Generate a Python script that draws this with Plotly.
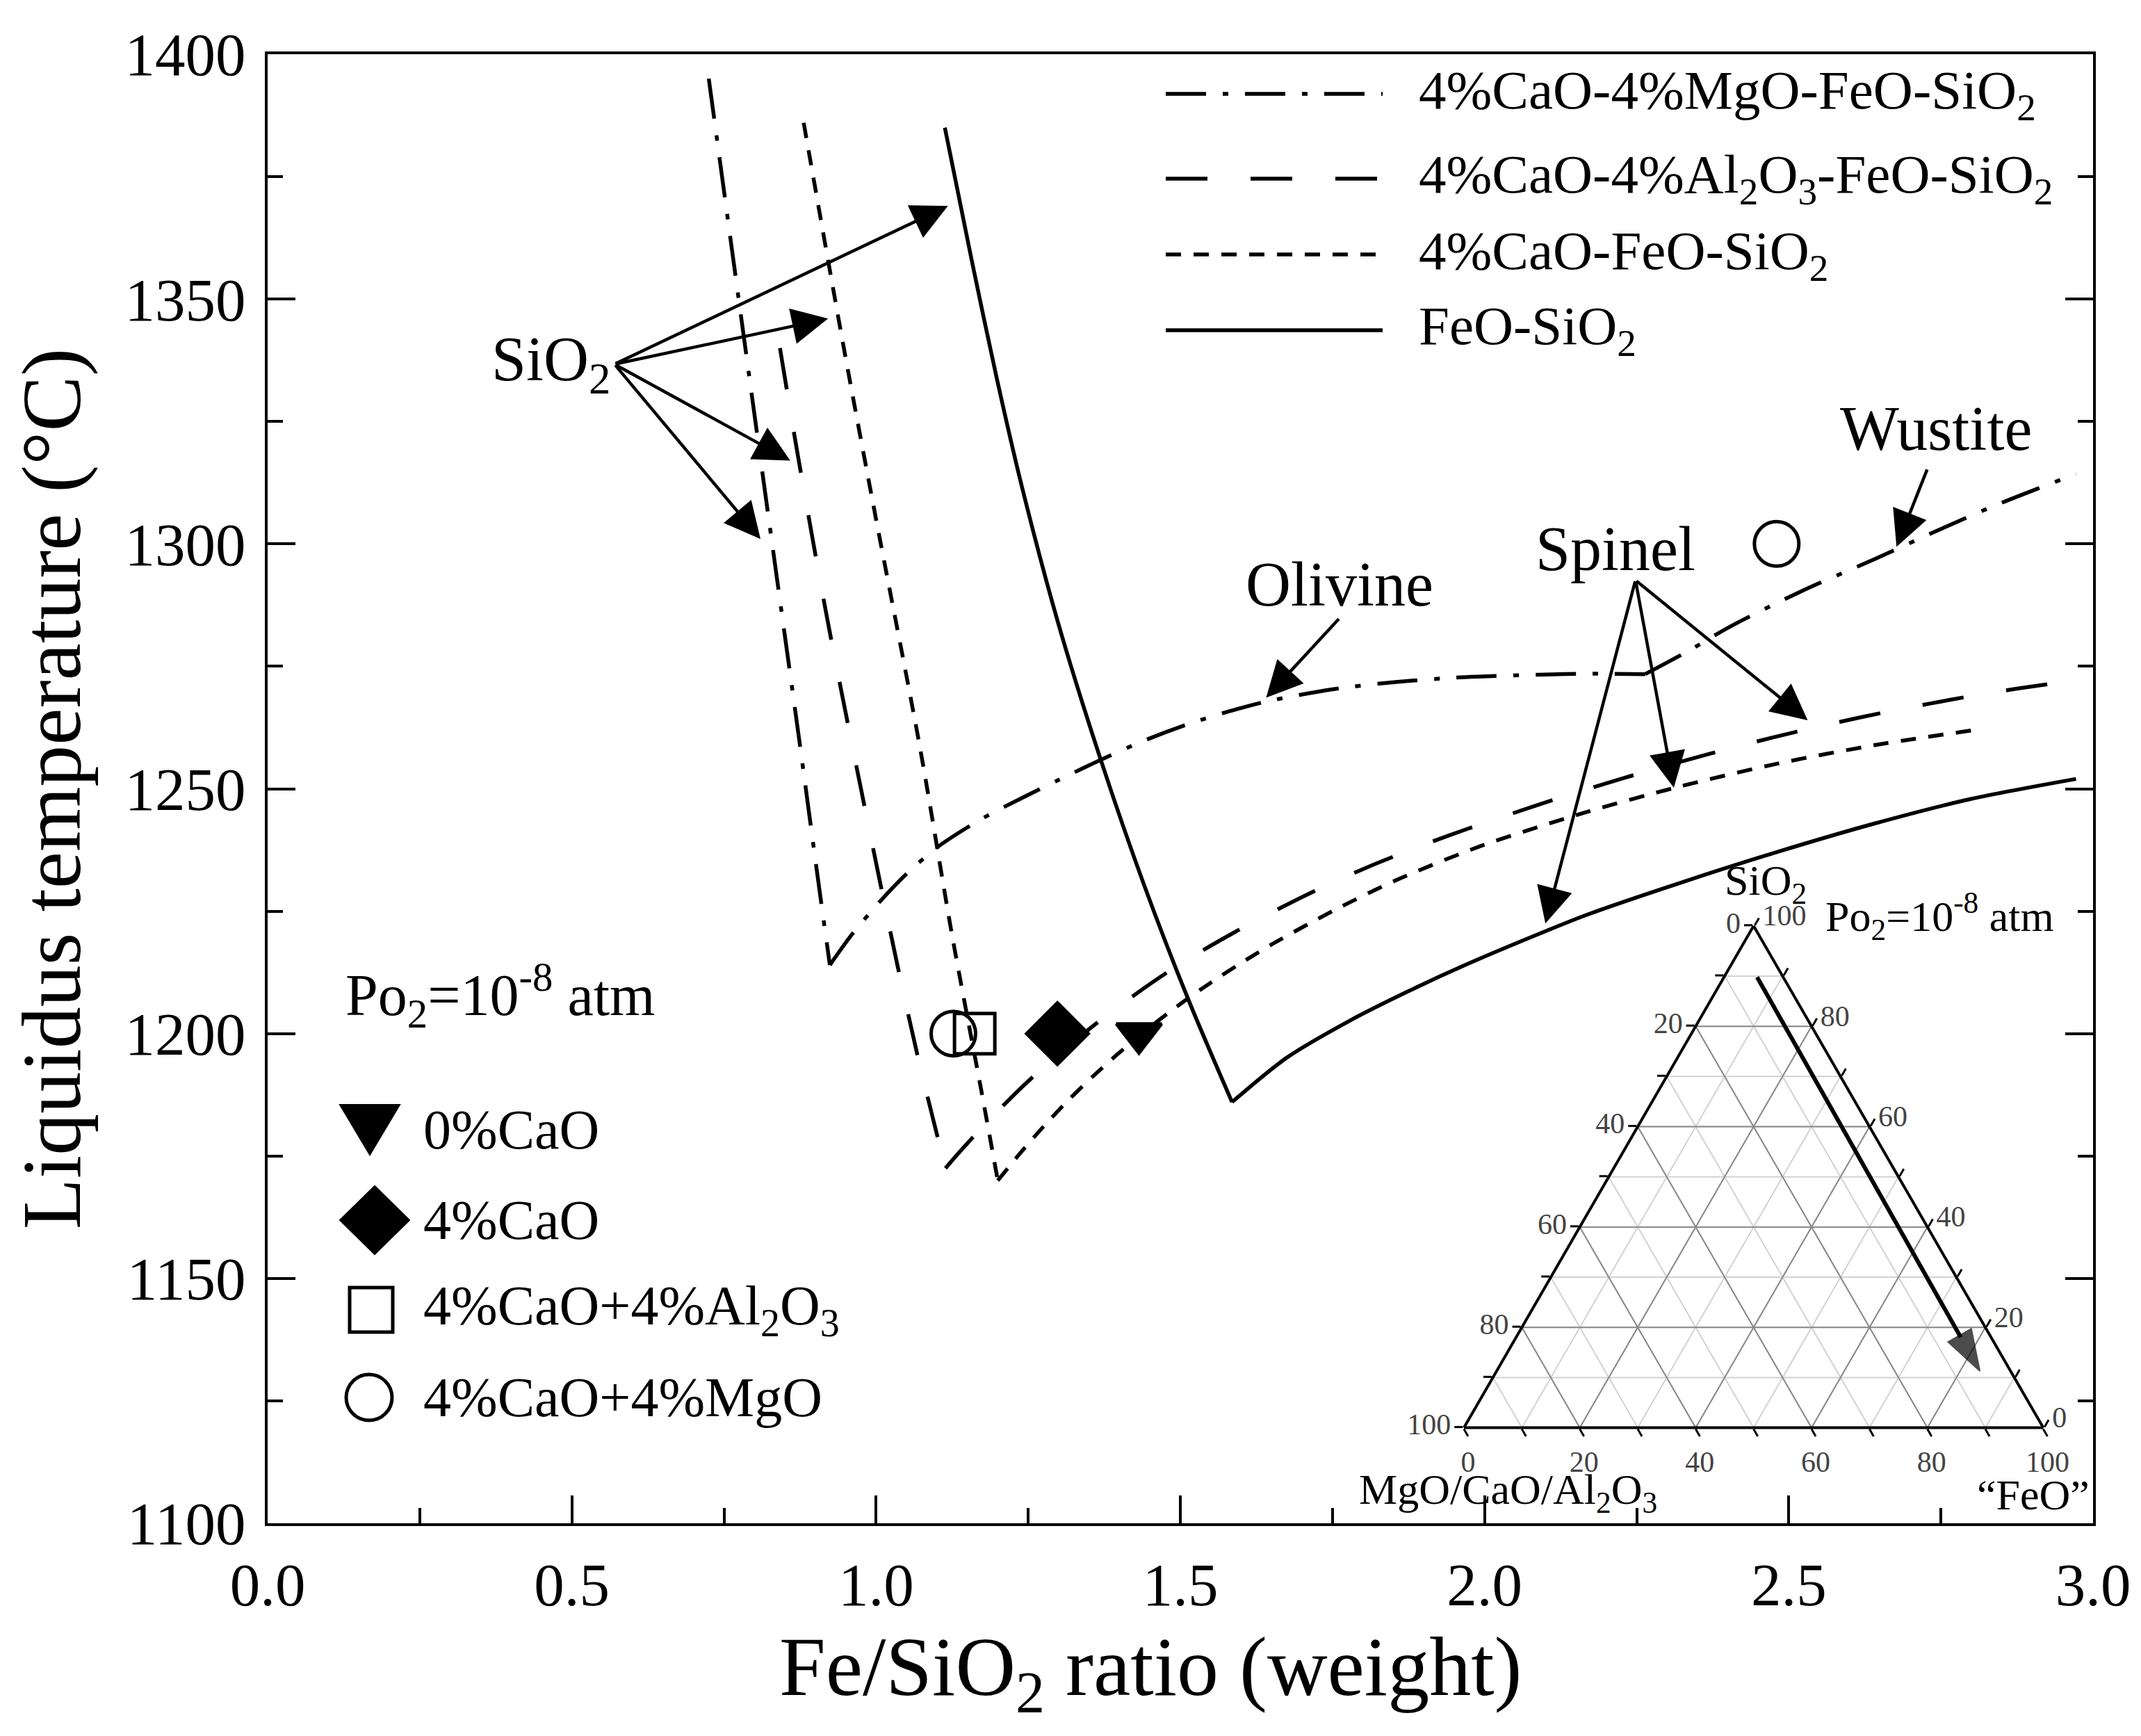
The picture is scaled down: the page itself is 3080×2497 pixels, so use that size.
import plotly.graph_objects as go

# ---------------- data ----------------
# 4%CaO-4%MgO-FeO-SiO2 : SiO2 branch, olivine branch, wustite branch
mgo_sio2_x = [0.725, 0.778, 0.832, 0.872, 0.904, 0.924]
mgo_sio2_t = [1395, 1346.5, 1297.5, 1261.5, 1232, 1214]
mgo_ol_x = [0.924, 0.960, 1.008, 1.050, 1.100, 1.170, 1.241, 1.300, 1.369, 1.440, 1.513, 1.580,
            1.641, 1.750, 1.854, 1.968, 2.090, 2.180, 2.264]
mgo_ol_t = [1214, 1220.2, 1227.2, 1232.6, 1238, 1243.6, 1248.2, 1251.8, 1255.9, 1259.8, 1263.2, 1265.8,
            1267.8, 1270.3, 1271.8, 1272.8, 1273.3, 1273.5, 1273.4]
mgo_wu_x = [2.264, 2.330, 2.405, 2.520, 2.641, 2.740, 2.838, 2.972]
mgo_wu_t = [1273.4, 1277.8, 1283.2, 1290.3, 1296.9, 1302.5, 1307.8, 1314.3]

# 4%CaO-4%Al2O3-FeO-SiO2 : SiO2 branch, spinel branch
al_sio2_x = [0.842, 0.8715, 0.920, 0.980, 1.035, 1.071, 1.114]
al_sio2_t = [1340, 1318, 1284.5, 1247, 1214, 1194, 1172.5]
al_sp_x = [1.114, 1.137, 1.180, 1.239, 1.300, 1.354, 1.4125, 1.476, 1.537, 1.601, 1.670, 1.734, 1.806,
           1.870, 1.940, 2.004, 2.083, 2.145, 2.224, 2.287, 2.366, 2.433, 2.511, 2.578, 2.661, 2.728,
           2.803, 2.873, 2.987]
al_sp_t = [1172.5, 1175.8, 1181.6, 1189, 1195.8, 1201.3, 1206.8, 1212.3, 1217, 1221.5, 1226, 1229.9, 1233.9,
           1237.1, 1240.4, 1243.2, 1246.5, 1249, 1252, 1254.3, 1257, 1259.2, 1261.6, 1263.5, 1265.7, 1267.3,
           1269, 1270.4, 1272.4]

# 4%CaO-FeO-SiO2 : SiO2 branch, spinel branch
cao_sio2_x = [0.881, 0.947, 1.000, 1.072, 1.125, 1.173, 1.200]
cao_sio2_t = [1386, 1340, 1305, 1258.5, 1220, 1188.3, 1170]
cao_sp_x = [1.200, 1.237, 1.275, 1.316, 1.361, 1.395, 1.453, 1.504, 1.550, 1.596, 1.650, 1.750, 1.854,
            1.996, 2.169, 2.319, 2.484, 2.641, 2.806]
cao_sp_t = [1170, 1175.6, 1181, 1186.4, 1191.8, 1195.6, 1201.6, 1206.4, 1210.4, 1214.1, 1218.2, 1225, 1231.3,
            1238.4, 1245.3, 1250.4, 1255.2, 1258.9, 1262]

# FeO-SiO2 : SiO2 branch, spinel branch
fs_sio2_x = [1.113, 1.157, 1.198, 1.239, 1.300, 1.369, 1.440, 1.513, 1.585]
fs_sio2_t = [1385, 1358, 1334, 1312, 1283.5, 1256, 1230.5, 1207, 1186]
fs_sp_x = [1.585, 1.674, 1.778, 1.874, 1.968, 2.102, 2.169, 2.327, 2.484, 2.641, 2.799, 2.972]
fs_sp_t = [1186, 1195, 1202.6, 1208.6, 1214, 1221, 1224.3, 1231, 1237.2, 1242.9, 1247.9, 1252]

# experimental points
pt_names = ["0%CaO", "4%CaO", "4%CaO+4%Al2O3", "4%CaO+4%MgO", "4%CaO+4%MgO"]
pt_x = [1.432, 1.298, 1.162, 1.127, 2.480]
pt_t = [1200, 1200, 1200, 1200, 1300]
pt_symbol = ["triangle-down", "diamond", "square-open", "circle-open", "circle-open"]
pt_size = [56, 68, 58, 64, 64]

# phase labels and arrows (tail -> tip)
sio2_tail = (0.570, 1336.7)
sio2_tips = [(1.118, 1369.0), (0.921, 1346.0), (0.859, 1317.0), (0.810, 1301.0)]
olivine_tail, olivine_tip = (1.762, 1284.9), (1.641, 1268.6)
wustite_tail, wustite_tip = (2.728, 1315.4), (2.677, 1299.4)
spinel_tail = (2.248, 1292.6)
spinel_tips = [(2.531, 1264.0), (2.311, 1250.2), (2.100, 1222.5)]

# ternary inset arrow (SiO2, MgO/CaO/Al2O3, FeO in %)
tern_a = [89.8, 11.3]
tern_b = [4.5, 5.3]
tern_c = [5.7, 83.4]
tern_ticks = list(range(0, 101, 10))
tern_major = [20, 40, 60, 80]

legend_lines = ["4%CaO-4%MgO-FeO-SiO<sub>2</sub>",
                "4%CaO-4%Al<sub>2</sub>O<sub>3</sub>-FeO-SiO<sub>2</sub>",
                "4%CaO-FeO-SiO<sub>2</sub>",
                "FeO-SiO<sub>2</sub>"]
legend_pts = ["0%CaO", "4%CaO", "4%CaO+4%Al<sub>2</sub>O<sub>3</sub>", "4%CaO+4%MgO"]

# ---------------- layout geometry ----------------
W, H = 3080, 2497
ML, MR, MT, MB = 377, 77, 70, 314
PW, PH = W - ML - MR, H - MT - MB
FONT = "Liberation Serif, Times New Roman, serif"

DASHDOT = "58px,24px,8px,24px"
LONGDASH = "60px,62px"
SHORTDASH = "22px,18px"
styles = [DASHDOT, LONGDASH, SHORTDASH, "solid"]
LW = 5.5


def pxx(xf):
    return (xf - ML) / PW


def pxy(yf):
    return (H - MB - yf) / PH


fig = go.Figure()

curves = [(mgo_sio2_x, mgo_sio2_t, DASHDOT), (mgo_ol_x, mgo_ol_t, DASHDOT), (mgo_wu_x, mgo_wu_t, DASHDOT),
          (al_sio2_x, al_sio2_t, LONGDASH), (al_sp_x, al_sp_t, LONGDASH),
          (cao_sio2_x, cao_sio2_t, SHORTDASH), (cao_sp_x, cao_sp_t, SHORTDASH),
          (fs_sio2_x, fs_sio2_t, "solid"), (fs_sp_x, fs_sp_t, "solid")]
for xs, ts, dash in curves:
    fig.add_trace(go.Scatter(x=xs, y=ts, mode="lines",
                             line=dict(color="black", width=LW, dash=dash, shape="spline", smoothing=0.8),
                             showlegend=False, hoverinfo="skip"))

for name, x, t, sym, sz in zip(pt_names, pt_x, pt_t, pt_symbol, pt_size):
    fig.add_trace(go.Scatter(x=[x], y=[t], mode="markers", name=name,
                             marker=dict(symbol=sym, size=sz, color="black",
                                         line=dict(color="black", width=5)),
                             showlegend=False))

# ternary inset: darker major grid lines (every 20 %) over the light 10 % grid
for v in tern_major:
    for a, b, c in [([v, v], [100 - v, 0], [0, 100 - v]),
                    ([100 - v, 0], [v, v], [0, 100 - v]),
                    ([100 - v, 0], [0, 100 - v], [v, v])]:
        fig.add_trace(go.Scatterternary(a=a, b=b, c=c, mode="lines",
                                        line=dict(color="#8a8a8a", width=2),
                                        showlegend=False, hoverinfo="skip"))

fig.add_trace(go.Scatterternary(a=tern_a, b=tern_b, c=tern_c, mode="lines+markers",
                                line=dict(color="black", width=6),
                                marker=dict(symbol=["circle", "arrow"], size=[0, 62],
                                            angleref="previous", color="black",
                                            line=dict(color="black", width=2)),
                                showlegend=False))


def tern_axis(labels):
    return dict(tickvals=tern_ticks, ticktext=labels, ticks="outside", ticklen=12,
                tickwidth=3, tickcolor="black", linecolor="black", linewidth=4,
                showgrid=True, gridcolor="#d2d2d2", gridwidth=1.5,
                tickfont=dict(family=FONT, size=42, color="#444"),
                title=dict(text=""), min=0)


rev = [str(100 - v) if v % 20 == 0 else "" for v in tern_ticks]

annotations = []


def arrow(tip, tail):
    return dict(x=tip[0], y=tip[1], ax=tail[0], ay=tail[1], xref="x", yref="y",
                axref="x", ayref="y", text="", showarrow=True, arrowhead=2,
                arrowsize=2.3, arrowwidth=4.5, arrowcolor="black", standoff=0,
                startstandoff=0)


for tip in sio2_tips:
    annotations.append(arrow(tip, sio2_tail))
annotations.append(arrow(olivine_tip, olivine_tail))
annotations.append(arrow(wustite_tip, wustite_tail))
for tip in spinel_tips:
    annotations.append(arrow(tip, spinel_tail))

lab_font = dict(family=FONT, size=90, color="black")
annotations += [
    dict(x=0.567, y=1336.7, xref="x", yref="y", text="SiO<sub>2</sub>", showarrow=False,
         xanchor="right", yanchor="middle", font=lab_font),
    dict(x=1.762, y=1291.8, xref="x", yref="y", text="Olivine", showarrow=False,
         xanchor="center", yanchor="middle", font=lab_font),
    dict(x=2.742, y=1323.5, xref="x", yref="y", text="Wustite", showarrow=False,
         xanchor="center", yanchor="middle", font=lab_font),
    dict(x=2.215, y=1299.0, xref="x", yref="y", text="Spinel", showarrow=False,
         xanchor="center", yanchor="middle", font=lab_font),
]

# x-axis title (placed as in the reference, slightly left of centre)
annotations.append(dict(x=pxx(1647), y=pxy(2398), xref="paper", yref="paper",
                        text="Fe/SiO<sub>2</sub> ratio (weight)", showarrow=False,
                        xanchor="center", yanchor="middle",
                        font=dict(family=FONT, size=120, color="black")))

shapes = []
# top-right line legend
leg_rows = [127, 249, 358, 467]
for row, lab, dash in zip(leg_rows, legend_lines, styles):
    shapes.append(dict(type="line", xref="paper", yref="paper",
                       x0=pxx(1669), x1=pxx(1981), y0=pxy(row), y1=pxy(row),
                       line=dict(color="black", width=LW, dash=dash)))
    annotations.append(dict(x=pxx(2031), y=pxy(row), xref="paper", yref="paper", text=lab,
                            showarrow=False, xanchor="left", yanchor="middle",
                            font=dict(family=FONT, size=79, color="black")))

# bottom-left marker legend
annotations.append(dict(x=pxx(487), y=pxy(1424), xref="paper", yref="paper",
                        text="Po<sub>2</sub>=10<sup>-8</sup> atm", showarrow=False,
                        xanchor="left", yanchor="middle",
                        font=dict(family=FONT, size=84, color="black")))
mk_rows = [1617, 1747, 1876, 2002]
mk_cx = [524, 531, 526, 523]
for row, lab in zip(mk_rows, legend_pts):
    annotations.append(dict(x=pxx(599), y=pxy(row), xref="paper", yref="paper", text=lab,
                            showarrow=False, xanchor="left", yanchor="middle",
                            font=dict(family=FONT, size=80, color="black")))

base = dict(xref="paper", yref="paper", xsizemode="pixel", ysizemode="pixel")
shapes.append(dict(base, type="path", xanchor=pxx(mk_cx[0]), yanchor=pxy(mk_rows[0]),
                   path="M-43,36 L43,36 L0,-36 Z", fillcolor="black",
                   line=dict(color="black", width=2)))
shapes.append(dict(base, type="path", xanchor=pxx(mk_cx[1]), yanchor=pxy(mk_rows[1]),
                   path="M-50,0 L0,49 L50,0 L0,-49 Z", fillcolor="black",
                   line=dict(color="black", width=2)))
shapes.append(dict(base, type="rect", xanchor=pxx(mk_cx[2]), yanchor=pxy(mk_rows[2]),
                   x0=-31, x1=31, y0=-32, y1=32, line=dict(color="black", width=5)))
shapes.append(dict(base, type="circle", xanchor=pxx(mk_cx[3]), yanchor=pxy(mk_rows[3]),
                   x0=-33, x1=33, y0=-33, y1=33, line=dict(color="black", width=5)))

# ternary labels
tfont = dict(family=FONT, size=62, color="black")
annotations += [
    dict(x=pxx(2532), y=pxy(1262), xref="paper", yref="paper", text="SiO<sub>2</sub>",
         showarrow=False, xanchor="center", yanchor="middle", font=tfont),
    dict(x=pxx(2616), y=pxy(1309), xref="paper", yref="paper",
         text="Po<sub>2</sub>=10<sup>-8</sup> atm", showarrow=False, xanchor="left",
         yanchor="middle", font=tfont),
    dict(x=pxx(2161), y=pxy(2138), xref="paper", yref="paper",
         text="MgO/CaO/Al<sub>2</sub>O<sub>3</sub>", showarrow=False, xanchor="center",
         yanchor="middle", font=tfont),
    dict(x=pxx(3000), y=pxy(2142), xref="paper", yref="paper", text="\u201cFeO\u201d",
         showarrow=False, xanchor="right", yanchor="middle", font=tfont),
]

axis_common = dict(showline=True, linecolor="black", linewidth=4, ticks="inside",
                   ticklen=40, tickwidth=4, tickcolor="black", showgrid=False,
                   zeroline=False, tickfont=dict(family=FONT, size=87, color="black"))

fig.update_layout(
    width=W, height=H, margin=dict(l=ML, r=MR, t=MT, b=MB),
    paper_bgcolor="white", plot_bgcolor="white",
    font=dict(family=FONT, color="black"),
    xaxis=dict(axis_common, range=[0, 3], tick0=0, dtick=0.5, tickformat=".1f",
               mirror=True, ticklabelstandoff=10,
               minor=dict(dtick=0.25, ticks="inside", ticklen=22, tickwidth=4, tickcolor="black"),
               title=dict(text="")),
    yaxis=dict(axis_common, range=[1100, 1400], tick0=1100, dtick=50, mirror="ticks",
               ticklabelstandoff=10,
               minor=dict(dtick=25, ticks="inside", ticklen=22, tickwidth=4, tickcolor="black"),
               title=dict(text="Liquidus temperature (\u00b0C)",
                          font=dict(family=FONT, size=120), standoff=44)),
    ternary=dict(domain=dict(x=[pxx(2097.3), pxx(2932.1)], y=[pxy(2045.6), pxy(1323.8)]),
                 sum=100, bgcolor="rgba(255,255,255,0)",
                 aaxis=tern_axis(rev), baxis=tern_axis(rev), caxis=tern_axis(rev)),
    annotations=annotations, shapes=shapes, showlegend=False,
)

fig.write_html("out.html")
